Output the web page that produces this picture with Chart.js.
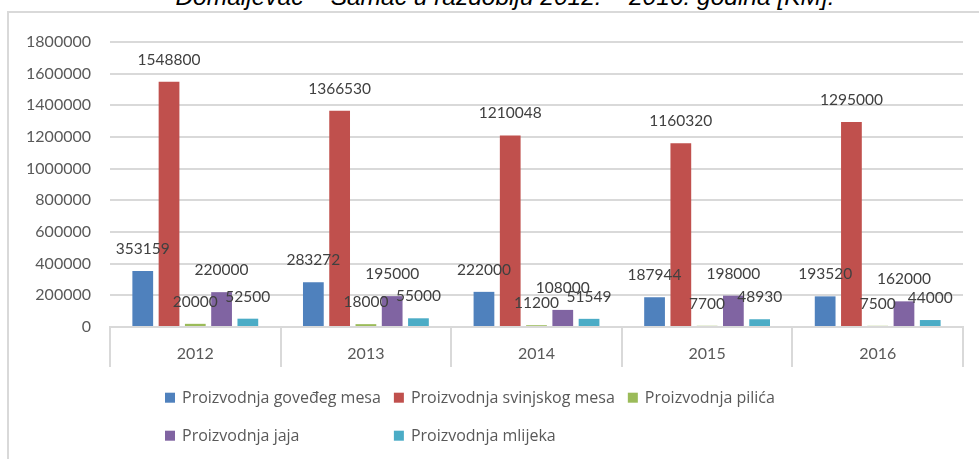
<!DOCTYPE html>
<html>
<head>
<meta charset="utf-8">
<script src="https://cdn.jsdelivr.net/npm/chart.js@4"></script>
<style>
  body { margin: 0; background: #ffffff; }
  #wrap { position: relative; width: 979px; height: 459px; overflow: hidden; }
  #frame { position: absolute; left: 7px; top: 11px; width: 1000px; height: 500px;
           border-left: 2px solid #d9d9d9; border-top: 2px solid #d9d9d9; }
  #naslov { position: absolute; left: 0; top: -15px; width: 1010px; text-align: center;
            font: italic 24.5px "Liberation Sans"; line-height: 24.5px; color: #000; white-space: nowrap; }
  canvas { position: absolute; left: 0; top: 0; }
</style>
</head>
<body>
<div id="wrap">
  <div id="naslov">Domaljevac – Šamac u razdoblju 2012. – 2016. godina [KM].</div>
  <div id="frame"></div>
  <canvas id="grafico" width="979" height="459"></canvas>
</div>
<script>
const godine = ['2012', '2013', '2014', '2015', '2016'];
const goveđeMeso = [353159, 283272, 222000, 187944, 193520];
const svinjskoMeso = [1548800, 1366530, 1210048, 1160320, 1295000];
const pilici = [20000, 18000, 11200, 7700, 7500];
const jaja = [220000, 195000, 108000, 198000, 162000];
const mlijeko = [52500, 55000, 51549, 48930, 44000];
const yMax = 1800000;
const yStep = 200000;

const nazivi = ['Proizvodnja goveđeg mesa', 'Proizvodnja svinjskog mesa', 'Proizvodnja pilića',
                'Proizvodnja jaja', 'Proizvodnja mlijeka'];
const boje = ['#4f81bd', '#c0504d', '#9bbb59', '#8064a2', '#4bacc6'];
const serije = [goveđeMeso, svinjskoMeso, pilici, jaja, mlijeko];

// value text above every bar
const oznakeVrijednosti = {
    id: 'oznakeVrijednosti',
    afterDatasetsDraw(chart) {
        const ctx = chart.ctx;
        ctx.save();
        ctx.font = '15.5px Lato';
        ctx.fillStyle = '#404040';
        ctx.textAlign = 'center';
        ctx.textBaseline = 'middle';
        chart.data.datasets.forEach((ds, i) => {
            chart.getDatasetMeta(i).data.forEach((bar, j) => {
                ctx.fillText(String(ds.data[j]), bar.x, bar.y - 22);
            });
        });
        ctx.restore();
    }
};

// legend laid out in columns like the Excel one
const legendaMreza = {
    id: 'legendaMreza',
    afterDraw(chart) {
        const ctx = chart.ctx;
        const kolone = 3;
        const lijevo = 165;
        const vrh = 397.7;
        const red = 38;
        ctx.save();
        ctx.font = '16px "Open Sans"';
        const sirine = chart.data.datasets.map(ds => 17 + ctx.measureText(ds.label).width + 13);
        const sirinaKolone = [];
        sirine.forEach((w, i) => {
            const c = i % kolone;
            sirinaKolone[c] = Math.max(sirinaKolone[c] || 0, w);
        });
        chart.data.datasets.forEach((ds, i) => {
            const c = i % kolone;
            const r = Math.floor(i / kolone);
            let x = lijevo;
            for (let k = 0; k < c; k++) x += sirinaKolone[k];
            const y = vrh + r * red;
            ctx.fillStyle = ds.backgroundColor;
            ctx.fillRect(x, y - 5, 10, 10);
            ctx.fillStyle = '#595959';
            ctx.textBaseline = 'alphabetic';
            ctx.fillText(ds.label, x + 17, y + 5);
        });
        ctx.restore();
    }
};

const ctx = document.getElementById('grafico').getContext('2d');
new Chart(ctx, {
    type: 'bar',
    data: {
        labels: godine,
        datasets: serije.map((s, i) => ({
            label: nazivi[i],
            data: s,
            backgroundColor: boje[i],
            categoryPercentage: 0.77,
            barPercentage: 0.79
        }))
    },
    options: {
        responsive: false,
        animation: false,
        layout: { padding: { left: 0, right: 16, top: 42, bottom: 92 } },
        plugins: {
            legend: { display: false },
            tooltip: { enabled: false }
        },
        scales: {
            x: {
                afterFit: scale => { scale.height = 40; },
                grid: {
                    offset: true,
                    drawOnChartArea: false,
                    drawTicks: true,
                    tickLength: 40,
                    color: '#d9d9d9',
                    lineWidth: 2
                },
                border: { display: true, color: '#d9d9d9', width: 2 },
                ticks: {
                    color: '#595959',
                    font: { family: 'Lato', size: 16 },
                    padding: -23,
                    maxRotation: 0
                }
            },
            y: {
                min: 0,
                max: yMax,
                afterFit: scale => { scale.width = 110; },
                grid: { color: '#d9d9d9', lineWidth: 2, drawTicks: false },
                border: { display: false },
                ticks: {
                    stepSize: yStep,
                    padding: 19,
                    color: '#595959',
                    font: { family: 'Lato', size: 16 },
                    callback: v => String(v)
                }
            }
        }
    },
    plugins: [oznakeVrijednosti, legendaMreza]
});
</script>
</body>
</html>
